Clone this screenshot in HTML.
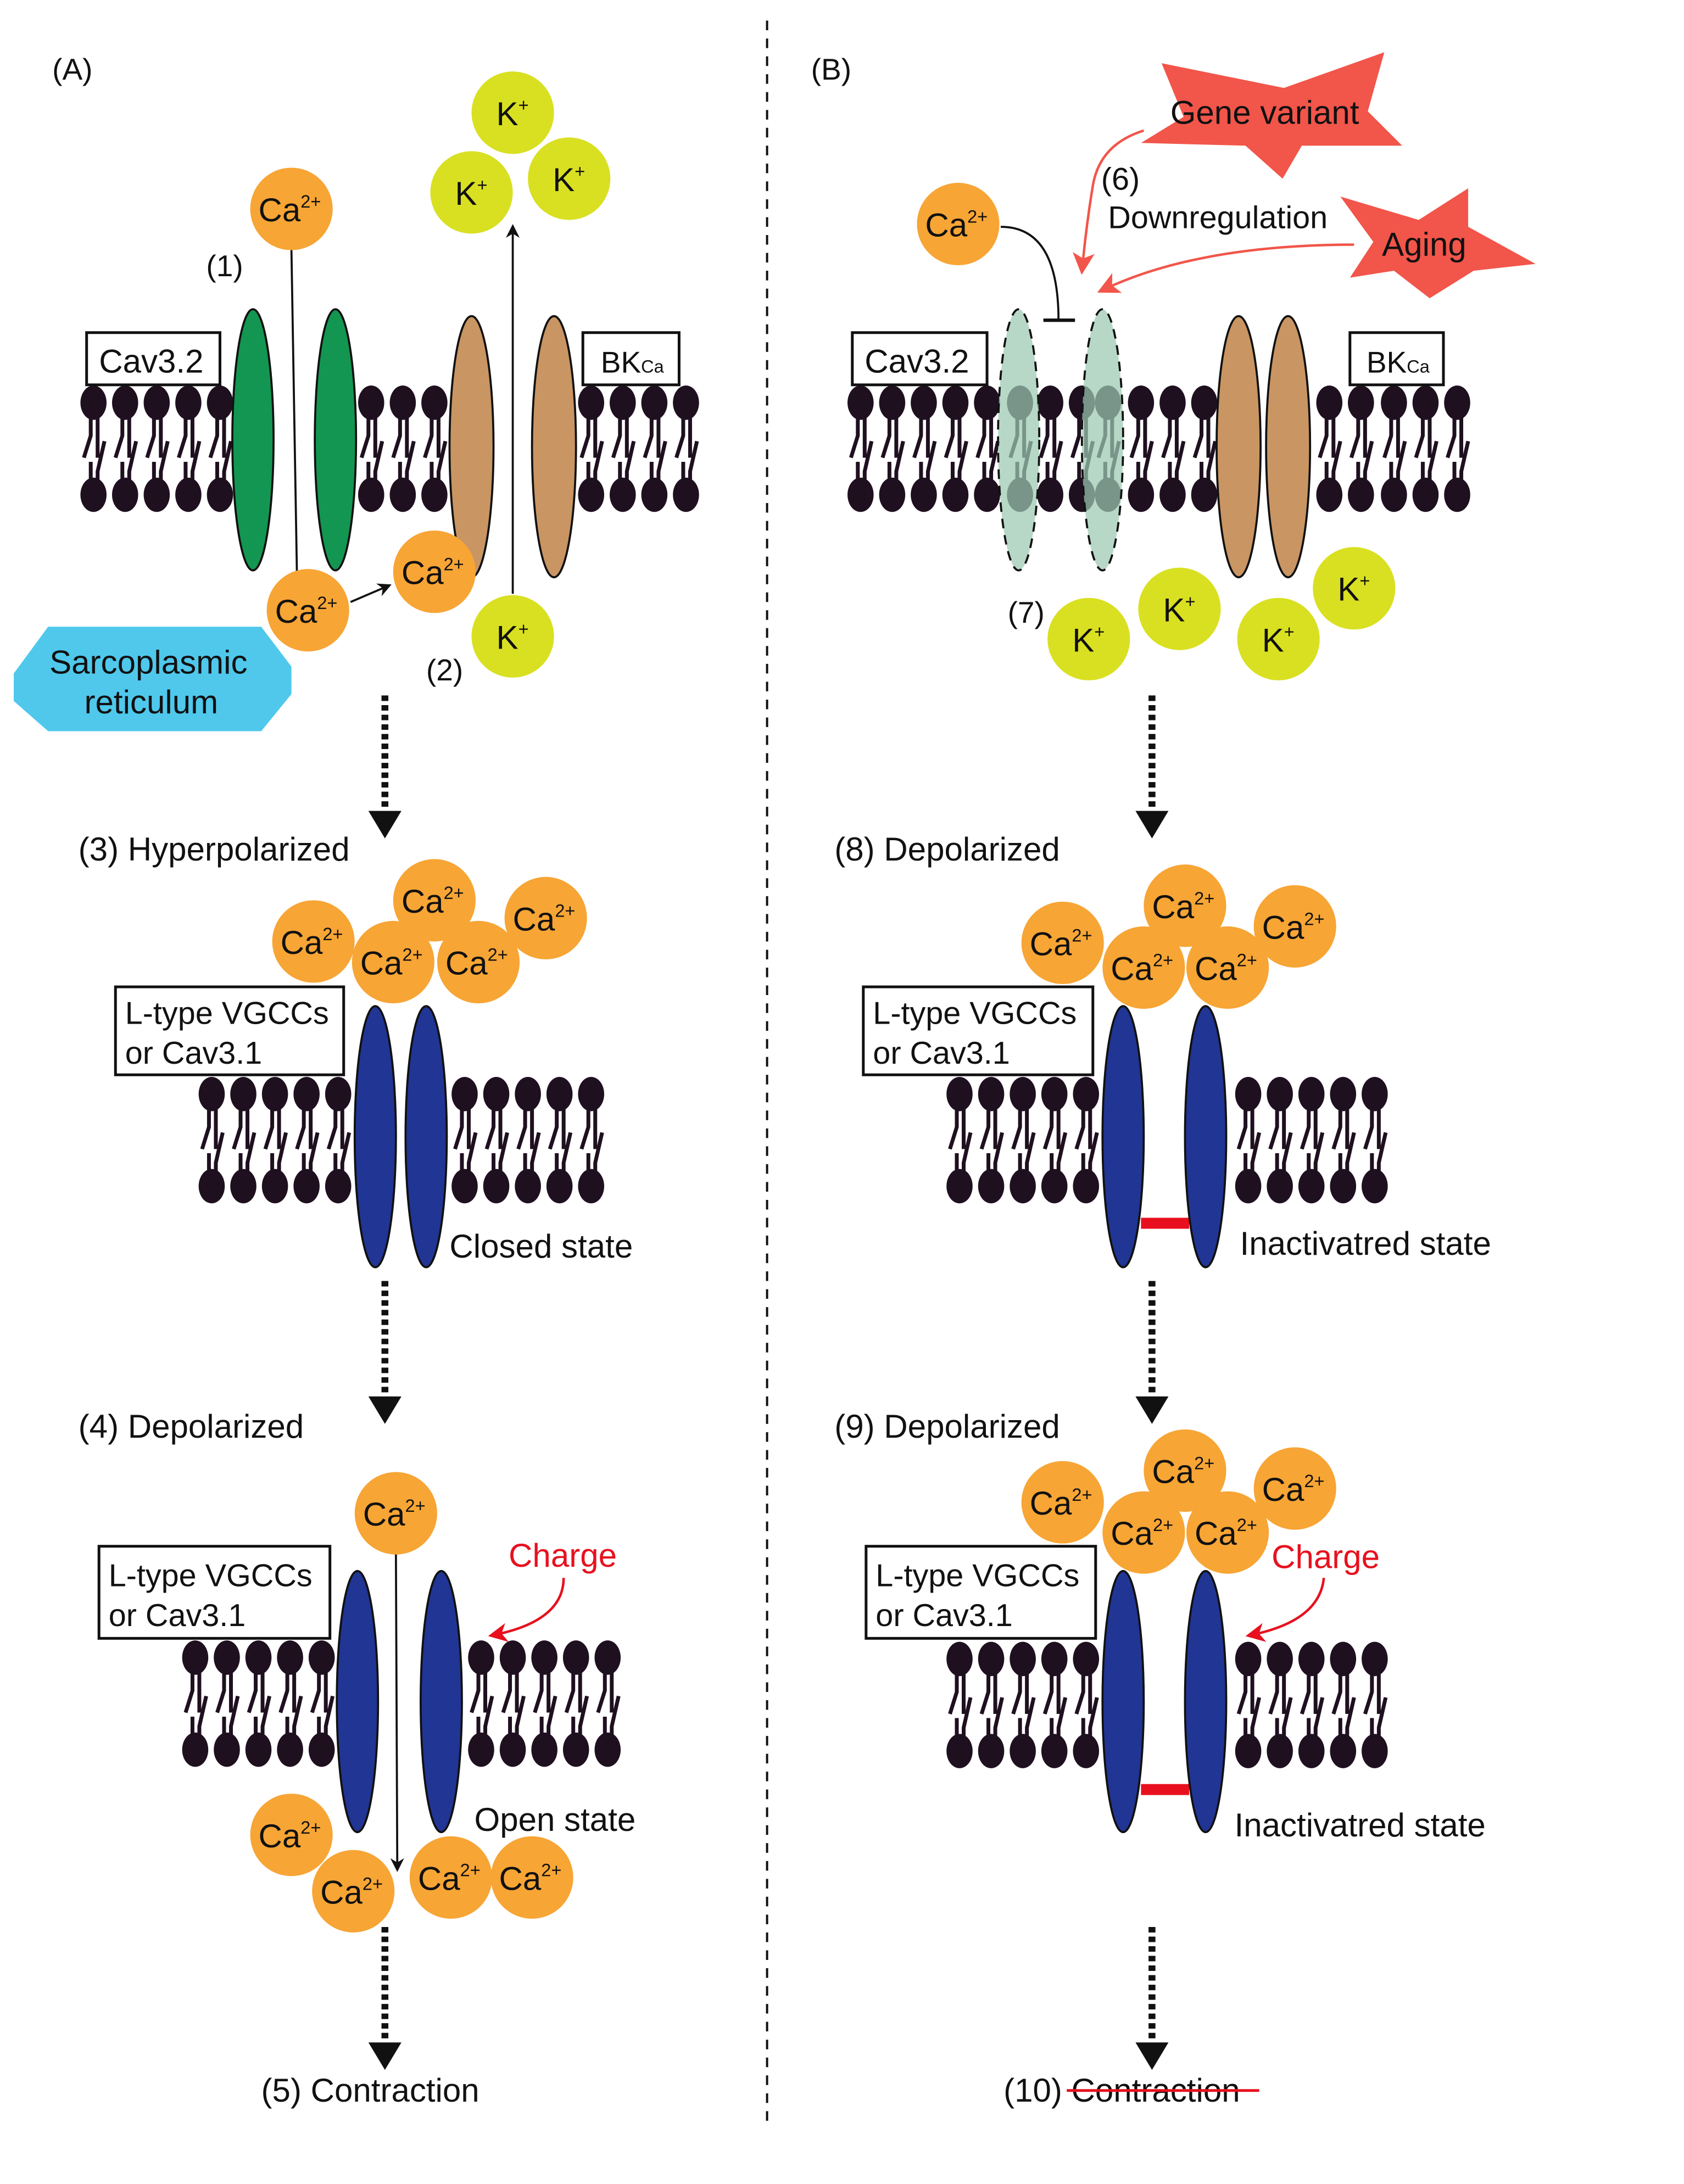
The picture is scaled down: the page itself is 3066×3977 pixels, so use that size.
<!DOCTYPE html>
<html><head><meta charset="utf-8"><style>
html,body{margin:0;padding:0;background:#fff}
svg{display:block}
text{font-family:"Liberation Sans",sans-serif;fill:#111}
</style></head><body>
<svg width="3066" height="3977" viewBox="0 0 1225 1589" xmlns="http://www.w3.org/2000/svg">
<defs>
<g id="L">
<ellipse cx="0" cy="0" rx="9.5" ry="12.5" fill="#1f1020"/>
<ellipse cx="0" cy="67" rx="9.5" ry="12.5" fill="#1f1020"/>
<path d="M-2,8 V24 L-7,40 M3,8 V40 M-2,59 V43 M3,59 V50 L8,28" stroke="#1f1020" stroke-width="2.8" fill="none"/>
</g>
<marker id="ah" markerWidth="10" markerHeight="10" refX="8" refY="5" orient="auto" markerUnits="userSpaceOnUse"><path d="M0,0 L10,5 L0,10 L3,5z" fill="#111"/></marker>
<marker id="ahr" markerWidth="14" markerHeight="14" refX="12" refY="7" orient="auto" markerUnits="userSpaceOnUse"><path d="M0,0 L14,7 L0,14 L4,7z" fill="#e8101e"/></marker>
<marker id="ahs" markerWidth="16" markerHeight="16" refX="14" refY="8" orient="auto" markerUnits="userSpaceOnUse"><path d="M0,0 L16,8 L0,16 L4,8z" fill="#f2554a"/></marker>
<g id="DA">
<line x1="0" y1="0" x2="0" y2="82" stroke="#111" stroke-width="5" stroke-dasharray="4,3"/>
<path d="M-12,84 L12,84 L0,104z" fill="#111"/>
</g>
</defs>

<line x1="558" y1="15" x2="558" y2="1545" stroke="#111" stroke-width="1.6" stroke-dasharray="7,6"/>

<!-- ===== PANEL A ===== -->
<text x="38" y="58" font-size="22">(A)</text>
<text x="150" y="201" font-size="22">(1)</text>
<text x="310" y="495" font-size="22">(2)</text>

<use href="#L" x="68" y="293"/><use href="#L" x="91" y="293"/><use href="#L" x="114" y="293"/><use href="#L" x="137" y="293"/><use href="#L" x="160" y="293"/>
<use href="#L" x="270" y="293"/><use href="#L" x="293" y="293"/><use href="#L" x="316" y="293"/>
<use href="#L" x="430" y="293"/><use href="#L" x="453" y="293"/><use href="#L" x="476" y="293"/><use href="#L" x="499" y="293"/>
<ellipse cx="184" cy="320" rx="15" ry="95" fill="#139651" stroke="#111" stroke-width="1.5"/>
<ellipse cx="244" cy="320" rx="15" ry="95" fill="#139651" stroke="#111" stroke-width="1.5"/>
<ellipse cx="343" cy="325" rx="16" ry="95" fill="#C99563" stroke="#111" stroke-width="1.5"/>
<ellipse cx="403" cy="325" rx="16" ry="95" fill="#C99563" stroke="#111" stroke-width="1.5"/>
<rect x="63" y="242" width="97" height="38" fill="#fff" stroke="#111" stroke-width="2"/>
<text x="72" y="271" font-size="24">Cav3.2</text>
<rect x="424" y="242" width="70" height="38" fill="#fff" stroke="#111" stroke-width="2"/>
<text x="437" y="271" font-size="22">BK<tspan font-size="13">Ca</tspan></text>

<line x1="212" y1="182" x2="216" y2="418" stroke="#111" stroke-width="1.5"/>
<line x1="373" y1="432" x2="373" y2="165" stroke="#111" stroke-width="1.5" marker-end="url(#ah)"/>

<circle cx="212" cy="152" r="30" fill="#F7A535"/><text x="188" y="161" font-size="24">Ca<tspan font-size="13" dy="-10">2+</tspan></text>
<circle cx="373" cy="82" r="30" fill="#D9E021"/><text x="361" y="91" font-size="24">K<tspan font-size="13" dy="-10">+</tspan></text>
<circle cx="343" cy="140" r="30" fill="#D9E021"/><text x="331" y="149" font-size="24">K<tspan font-size="13" dy="-10">+</tspan></text>
<circle cx="414" cy="130" r="30" fill="#D9E021"/><text x="402" y="139" font-size="24">K<tspan font-size="13" dy="-10">+</tspan></text>
<circle cx="373" cy="463" r="30" fill="#D9E021"/><text x="361" y="472" font-size="24">K<tspan font-size="13" dy="-10">+</tspan></text>

<path d="M10,490 L35,456 L190,456 L212,485 L212,505 L190,532 L35,532 L10,510z" fill="#4FC8EC"/>
<text x="108" y="490" font-size="24" text-anchor="middle">Sarcoplasmic</text>
<text x="110" y="519" font-size="24" text-anchor="middle">reticulum</text>
<circle cx="316" cy="416" r="30" fill="#F7A535"/><text x="292" y="425" font-size="24">Ca<tspan font-size="13" dy="-10">2+</tspan></text>
<circle cx="224" cy="444" r="30" fill="#F7A535"/><text x="200" y="453" font-size="24">Ca<tspan font-size="13" dy="-10">2+</tspan></text>
<line x1="255" y1="438" x2="283" y2="426" stroke="#111" stroke-width="1.5" marker-end="url(#ah)"/>

<use href="#DA" x="280" y="506"/>
<text x="57" y="626" font-size="24">(3) Hyperpolarized</text>

<circle cx="228" cy="685" r="30" fill="#F7A535"/><text x="204" y="694" font-size="24">Ca<tspan font-size="13" dy="-10">2+</tspan></text>
<circle cx="316" cy="655" r="30" fill="#F7A535"/><text x="292" y="664" font-size="24">Ca<tspan font-size="13" dy="-10">2+</tspan></text>
<circle cx="397" cy="668" r="30" fill="#F7A535"/><text x="373" y="677" font-size="24">Ca<tspan font-size="13" dy="-10">2+</tspan></text>
<circle cx="286" cy="700" r="30" fill="#F7A535"/><text x="262" y="709" font-size="24">Ca<tspan font-size="13" dy="-10">2+</tspan></text>
<circle cx="348" cy="700" r="30" fill="#F7A535"/><text x="324" y="709" font-size="24">Ca<tspan font-size="13" dy="-10">2+</tspan></text>
<use href="#L" x="154" y="796"/><use href="#L" x="177" y="796"/><use href="#L" x="200" y="796"/><use href="#L" x="223" y="796"/><use href="#L" x="246" y="796"/>
<use href="#L" x="338" y="796"/><use href="#L" x="361" y="796"/><use href="#L" x="384" y="796"/><use href="#L" x="407" y="796"/><use href="#L" x="430" y="796"/>
<ellipse cx="273" cy="827" rx="15" ry="95" fill="#213594" stroke="#111" stroke-width="1.5"/>
<ellipse cx="310" cy="827" rx="15" ry="95" fill="#213594" stroke="#111" stroke-width="1.5"/>
<rect x="84" y="718" width="166" height="64" fill="#fff" stroke="#111" stroke-width="2"/>
<text x="91" y="745" font-size="23">L-type VGCCs</text>
<text x="91" y="774" font-size="23">or Cav3.1</text>
<text x="327" y="915" font-size="24">Closed state</text>

<use href="#DA" x="280" y="932"/>
<text x="57" y="1046" font-size="24">(4) Depolarized</text>

<use href="#L" x="142" y="1206"/><use href="#L" x="165" y="1206"/><use href="#L" x="188" y="1206"/><use href="#L" x="211" y="1206"/><use href="#L" x="234" y="1206"/>
<use href="#L" x="350" y="1206"/><use href="#L" x="373" y="1206"/><use href="#L" x="396" y="1206"/><use href="#L" x="419" y="1206"/><use href="#L" x="442" y="1206"/>
<ellipse cx="260" cy="1238" rx="15" ry="95" fill="#213594" stroke="#111" stroke-width="1.5"/>
<ellipse cx="321" cy="1238" rx="15" ry="95" fill="#213594" stroke="#111" stroke-width="1.5"/>
<rect x="72" y="1125" width="168" height="67" fill="#fff" stroke="#111" stroke-width="2"/>
<text x="79" y="1154" font-size="23">L-type VGCCs</text>
<text x="79" y="1183" font-size="23">or Cav3.1</text>
<line x1="288" y1="1130" x2="289" y2="1360" stroke="#111" stroke-width="1.5" marker-end="url(#ah)"/>
<circle cx="288" cy="1101" r="30" fill="#F7A535"/><text x="264" y="1110" font-size="24">Ca<tspan font-size="13" dy="-10">2+</tspan></text>
<text x="370" y="1140" font-size="24" style="fill:#e8101e">Charge</text>
<path d="M410,1148 Q410,1180 357,1190" stroke="#e8101e" stroke-width="1.8" fill="none" marker-end="url(#ahr)"/>
<circle cx="212" cy="1335" r="30" fill="#F7A535"/><text x="188" y="1344" font-size="24">Ca<tspan font-size="13" dy="-10">2+</tspan></text>
<circle cx="257" cy="1376" r="30" fill="#F7A535"/><text x="233" y="1385" font-size="24">Ca<tspan font-size="13" dy="-10">2+</tspan></text>
<circle cx="328" cy="1366" r="30" fill="#F7A535"/><text x="304" y="1375" font-size="24">Ca<tspan font-size="13" dy="-10">2+</tspan></text>
<circle cx="387" cy="1366" r="30" fill="#F7A535"/><text x="363" y="1375" font-size="24">Ca<tspan font-size="13" dy="-10">2+</tspan></text>
<text x="345" y="1332" font-size="24">Open state</text>
<use href="#DA" x="280" y="1402"/>
<text x="190" y="1529" font-size="24">(5) Contraction</text>

<!-- ===== PANEL B ===== -->
<text x="590" y="58" font-size="22">(B)</text>
<polygon points="845,46 934,64 1007,38 995,81 1020,106 947,106 933,130 906,106 830,104 861,85" fill="#F2554A"/>
<text x="920" y="90" font-size="24" text-anchor="middle">Gene variant</text>
<polygon points="975,143 1032,160 1068,137 1068,165 1117,192 1072,197 1040,217 1014,197 982,202 999,176" fill="#F2554A"/>
<text x="1036" y="186" font-size="24" text-anchor="middle">Aging</text>
<text x="801" y="138" font-size="23">(6)</text>
<text x="806" y="166" font-size="23">Downregulation</text>
<path d="M832,95 Q800,105 795,135 Q790,165 787,198" stroke="#F2554A" stroke-width="1.8" fill="none" marker-end="url(#ahs)"/>
<path d="M985,178 Q870,178 800,212" stroke="#F2554A" stroke-width="1.8" fill="none" marker-end="url(#ahs)"/>

<use href="#L" x="626" y="293"/><use href="#L" x="649" y="293"/><use href="#L" x="672" y="293"/><use href="#L" x="695" y="293"/><use href="#L" x="718" y="293"/>
<use href="#L" x="742" y="293"/><use href="#L" x="764" y="293"/><use href="#L" x="787" y="293"/><use href="#L" x="806" y="293"/>
<use href="#L" x="830" y="293"/><use href="#L" x="853" y="293"/><use href="#L" x="876" y="293"/>
<use href="#L" x="967" y="293"/><use href="#L" x="990" y="293"/><use href="#L" x="1014" y="293"/><use href="#L" x="1037" y="293"/><use href="#L" x="1060" y="293"/>
<ellipse cx="741" cy="320" rx="15" ry="95" fill="#9CC9B1" fill-opacity="0.72" stroke="#111" stroke-width="1.5" stroke-dasharray="7,5"/>
<ellipse cx="802" cy="320" rx="15" ry="95" fill="#9CC9B1" fill-opacity="0.72" stroke="#111" stroke-width="1.5" stroke-dasharray="7,5"/>
<ellipse cx="901" cy="325" rx="16" ry="95" fill="#C99563" stroke="#111" stroke-width="1.5"/>
<ellipse cx="937" cy="325" rx="16" ry="95" fill="#C99563" stroke="#111" stroke-width="1.5"/>
<rect x="620" y="242" width="98" height="38" fill="#fff" stroke="#111" stroke-width="2"/>
<text x="629" y="271" font-size="24">Cav3.2</text>
<rect x="982" y="242" width="68" height="38" fill="#fff" stroke="#111" stroke-width="2"/>
<text x="994" y="271" font-size="22">BK<tspan font-size="13">Ca</tspan></text>
<path d="M728,165 Q770,165 770,233" stroke="#111" stroke-width="1.5" fill="none"/>
<line x1="759" y1="233" x2="782" y2="233" stroke="#111" stroke-width="2.5"/>
<circle cx="697" cy="163" r="30" fill="#F7A535"/><text x="673" y="172" font-size="24">Ca<tspan font-size="13" dy="-10">2+</tspan></text>
<text x="733" y="453" font-size="22">(7)</text>
<circle cx="792" cy="465" r="30" fill="#D9E021"/><text x="780" y="474" font-size="24">K<tspan font-size="13" dy="-10">+</tspan></text>
<circle cx="858" cy="443" r="30" fill="#D9E021"/><text x="846" y="452" font-size="24">K<tspan font-size="13" dy="-10">+</tspan></text>
<circle cx="930" cy="465" r="30" fill="#D9E021"/><text x="918" y="474" font-size="24">K<tspan font-size="13" dy="-10">+</tspan></text>
<circle cx="985" cy="428" r="30" fill="#D9E021"/><text x="973" y="437" font-size="24">K<tspan font-size="13" dy="-10">+</tspan></text>

<use href="#DA" x="838" y="506"/>
<text x="607" y="626" font-size="24">(8) Depolarized</text>

<circle cx="773" cy="686" r="30" fill="#F7A535"/><text x="749" y="695" font-size="24">Ca<tspan font-size="13" dy="-10">2+</tspan></text>
<circle cx="862" cy="659" r="30" fill="#F7A535"/><text x="838" y="668" font-size="24">Ca<tspan font-size="13" dy="-10">2+</tspan></text>
<circle cx="942" cy="674" r="30" fill="#F7A535"/><text x="918" y="683" font-size="24">Ca<tspan font-size="13" dy="-10">2+</tspan></text>
<circle cx="832" cy="704" r="30" fill="#F7A535"/><text x="808" y="713" font-size="24">Ca<tspan font-size="13" dy="-10">2+</tspan></text>
<circle cx="893" cy="704" r="30" fill="#F7A535"/><text x="869" y="713" font-size="24">Ca<tspan font-size="13" dy="-10">2+</tspan></text>
<use href="#L" x="698" y="796"/><use href="#L" x="721" y="796"/><use href="#L" x="744" y="796"/><use href="#L" x="767" y="796"/><use href="#L" x="790" y="796"/>
<use href="#L" x="908" y="796"/><use href="#L" x="931" y="796"/><use href="#L" x="954" y="796"/><use href="#L" x="977" y="796"/><use href="#L" x="1000" y="796"/>
<rect x="830" y="886" width="35" height="8" fill="#e8101e"/>
<ellipse cx="817" cy="827" rx="15" ry="95" fill="#213594" stroke="#111" stroke-width="1.5"/>
<ellipse cx="877" cy="827" rx="15" ry="95" fill="#213594" stroke="#111" stroke-width="1.5"/>
<rect x="628" y="718" width="167" height="64" fill="#fff" stroke="#111" stroke-width="2"/>
<text x="635" y="745" font-size="23">L-type VGCCs</text>
<text x="635" y="774" font-size="23">or Cav3.1</text>
<text x="902" y="913" font-size="24">Inactivatred state</text>

<use href="#DA" x="838" y="932"/>
<text x="607" y="1046" font-size="24">(9) Depolarized</text>

<circle cx="773" cy="1093" r="30" fill="#F7A535"/><text x="749" y="1102" font-size="24">Ca<tspan font-size="13" dy="-10">2+</tspan></text>
<circle cx="862" cy="1070" r="30" fill="#F7A535"/><text x="838" y="1079" font-size="24">Ca<tspan font-size="13" dy="-10">2+</tspan></text>
<circle cx="942" cy="1083" r="30" fill="#F7A535"/><text x="918" y="1092" font-size="24">Ca<tspan font-size="13" dy="-10">2+</tspan></text>
<circle cx="832" cy="1115" r="30" fill="#F7A535"/><text x="808" y="1124" font-size="24">Ca<tspan font-size="13" dy="-10">2+</tspan></text>
<circle cx="893" cy="1115" r="30" fill="#F7A535"/><text x="869" y="1124" font-size="24">Ca<tspan font-size="13" dy="-10">2+</tspan></text>
<text x="925" y="1141" font-size="24" style="fill:#e8101e">Charge</text>
<path d="M963,1148 Q960,1180 908,1190" stroke="#e8101e" stroke-width="1.8" fill="none" marker-end="url(#ahr)"/>
<use href="#L" x="698" y="1207"/><use href="#L" x="721" y="1207"/><use href="#L" x="744" y="1207"/><use href="#L" x="767" y="1207"/><use href="#L" x="790" y="1207"/>
<use href="#L" x="908" y="1207"/><use href="#L" x="931" y="1207"/><use href="#L" x="954" y="1207"/><use href="#L" x="977" y="1207"/><use href="#L" x="1000" y="1207"/>
<rect x="830" y="1298" width="35" height="8" fill="#e8101e"/>
<ellipse cx="817" cy="1238" rx="15" ry="95" fill="#213594" stroke="#111" stroke-width="1.5"/>
<ellipse cx="877" cy="1238" rx="15" ry="95" fill="#213594" stroke="#111" stroke-width="1.5"/>
<rect x="630" y="1125" width="167" height="67" fill="#fff" stroke="#111" stroke-width="2"/>
<text x="637" y="1154" font-size="23">L-type VGCCs</text>
<text x="637" y="1183" font-size="23">or Cav3.1</text>
<text x="898" y="1336" font-size="24">Inactivatred state</text>

<use href="#DA" x="838" y="1402"/>
<text x="730" y="1529" font-size="24">(10) Contraction</text>
<line x1="776" y1="1521" x2="916" y2="1521" stroke="#e8101e" stroke-width="2"/>
</svg>
</body></html>
